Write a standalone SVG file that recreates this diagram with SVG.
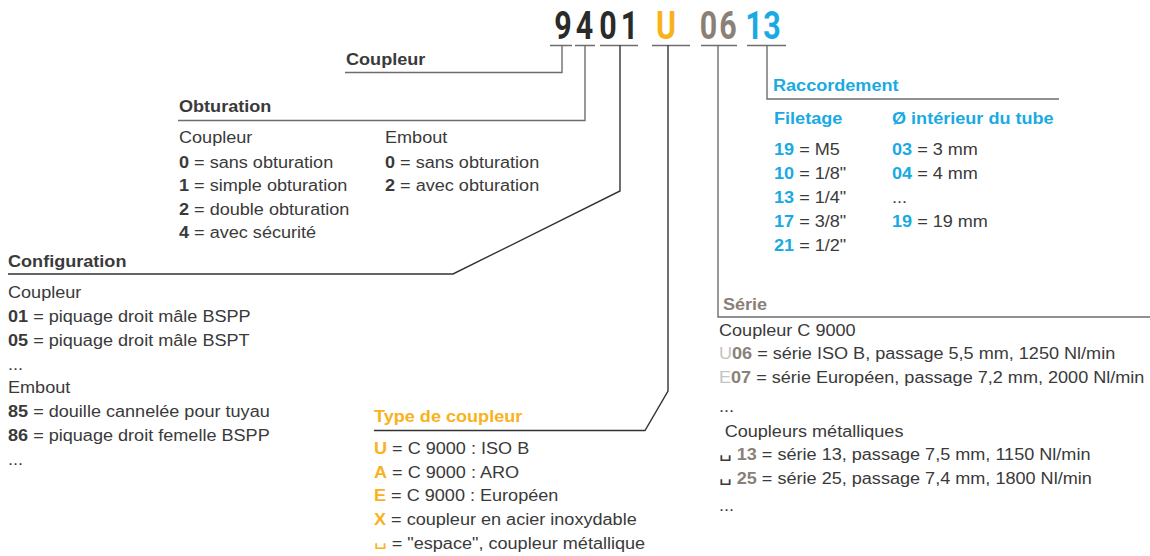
<svg xmlns="http://www.w3.org/2000/svg" width="1150" height="556" viewBox="0 0 1150 556">
<style>
.t{font-family:"Liberation Sans",Arial,Helvetica,sans-serif;font-size:16px;fill:#3a3a3a}
.b{font-weight:bold}
.or{fill:#F9B21B}
.cy{fill:#1AAAE3}
.tp{fill:#8A8077}
.lg{fill:#c4c4c4}
.sym{font-family:"DejaVu Sans",sans-serif;font-size:18px;font-weight:200}
.code{font-family:Roboto,"DejaVu Sans",sans-serif;font-weight:bold;font-size:38px;text-anchor:middle}
.k{fill:#2a2a2a}
.ln{fill:none;stroke:#6e6e6e;stroke-width:1.4}
.dk{stroke:#333}
</style>
<rect width="1150" height="556" fill="#fff"/>
<g id="code">
<text class="code k" transform="matrix(0.8 0 0 1 563 39)">9</text>
<text class="code k" transform="matrix(0.8 0 0 1 584.5 39)">4</text>
<text class="code k" transform="matrix(0.8 0 0 1 608 39)">0</text>
<text class="code k" transform="matrix(0.8 0 0 1 629.5 39)">1</text>
<text class="code or" transform="matrix(0.8 0 0 1 666 39)">U</text>
<text class="code tp" transform="matrix(0.8 0 0 1 708.5 39)">0</text>
<text class="code tp" transform="matrix(0.8 0 0 1 728 39)">6</text>
<text class="code cy" transform="matrix(0.8 0 0 1 754 39)">1</text>
<text class="code cy" transform="matrix(0.8 0 0 1 772 39)">3</text>
</g>
<g id="connectors">
<path class="ln" d="M550,45.5H572M575,45.5H595M600,45.5H638M652,45.5H690M701,45.5H737M747,45.5H786"/>
<path class="ln" d="M562,45.5V72.5H345"/>
<path class="ln" d="M585,45.5V120.5H178"/>
<path class="ln dk" d="M620,45.5V191L453,274H8"/>
<path class="ln dk" d="M668,45.5V391L645,430.5H374"/>
<path class="ln" d="M718,45.5V317H1150"/>
<path class="ln" d="M767,45.5V99H1059"/>
</g>
<g id="coupleur" transform="matrix(1.13 0 0 1 346 0)">
<text class="t b" x="0" y="65">Coupleur</text>
</g>
<g id="obturation">
<g transform="matrix(1.13 0 0 1 179 0)">
<text class="t b" x="0" y="112">Obturation</text>
<text class="t" x="0" y="143.5">Coupleur</text>
<text class="t" x="0" y="168"><tspan class="b">0</tspan> = sans obturation</text>
<text class="t" x="0" y="191.5"><tspan class="b">1</tspan> = simple obturation</text>
<text class="t" x="0" y="215"><tspan class="b">2</tspan> = double obturation</text>
<text class="t" x="0" y="238.5"><tspan class="b">4</tspan> = avec sécurité</text>
</g>
<g transform="matrix(1.13 0 0 1 385 0)">
<text class="t" x="0" y="143.5">Embout</text>
<text class="t" x="0" y="168"><tspan class="b">0</tspan> = sans obturation</text>
<text class="t" x="0" y="191.5"><tspan class="b">2</tspan> = avec obturation</text>
</g>
</g>
<g id="configuration" transform="matrix(1.13 0 0 1 8 0)">
<text class="t b" x="0" y="267">Configuration</text>
<text class="t" x="0" y="298">Coupleur</text>
<text class="t" x="0" y="322"><tspan class="b">01</tspan> = piquage droit mâle BSPP</text>
<text class="t" x="0" y="346"><tspan class="b">05</tspan> = piquage droit mâle BSPT</text>
<text class="t" x="0" y="370">...</text>
<text class="t" x="0" y="393">Embout</text>
<text class="t" x="0" y="417"><tspan class="b">85</tspan> = douille cannelée pour tuyau</text>
<text class="t" x="0" y="441"><tspan class="b">86</tspan> = piquage droit femelle BSPP</text>
<text class="t" x="0" y="465">...</text>
</g>
<g id="type" transform="matrix(1.13 0 0 1 374 0)">
<text class="t b or" x="0" y="422">Type de coupleur</text>
<text class="t" x="0" y="454"><tspan class="b or">U</tspan> = C 9000 : ISO B</text>
<text class="t" x="0" y="478"><tspan class="b or">A</tspan> = C 9000 : ARO</text>
<text class="t" x="0" y="501.5"><tspan class="b or">E</tspan> = C 9000 : Européen</text>
<text class="t" x="0" y="525"><tspan class="b or">X</tspan> = coupleur en acier inoxydable</text>
<text class="t" x="0" y="549"><tspan class="sym or" baseline-shift="4">␣</tspan> = "espace", coupleur métallique</text>
</g>
<g id="raccordement">
<g transform="matrix(1.13 0 0 1 773 0)">
<text class="t b cy" x="0" y="91">Raccordement</text>
</g>
<g transform="matrix(1.13 0 0 1 774 0)">
<text class="t b cy" x="0" y="124">Filetage</text>
<text class="t" x="0" y="155"><tspan class="b cy">19</tspan> = M5</text>
<text class="t" x="0" y="179"><tspan class="b cy">10</tspan> = 1/8"</text>
<text class="t" x="0" y="203"><tspan class="b cy">13</tspan> = 1/4"</text>
<text class="t" x="0" y="227"><tspan class="b cy">17</tspan> = 3/8"</text>
<text class="t" x="0" y="251"><tspan class="b cy">21</tspan> = 1/2"</text>
</g>
<g transform="matrix(1.13 0 0 1 892 0)">
<text class="t b cy" x="0" y="124">Ø intérieur du tube</text>
<text class="t" x="0" y="155"><tspan class="b cy">03</tspan> = 3 mm</text>
<text class="t" x="0" y="179"><tspan class="b cy">04</tspan> = 4 mm</text>
<text class="t" x="0" y="203">...</text>
<text class="t" x="0" y="227"><tspan class="b cy">19</tspan> = 19 mm</text>
</g>
</g>
<g id="serie" transform="matrix(1.13 0 0 1 719 0)">
<text class="t b tp" x="3.5" y="310">Série</text>
<text class="t" x="0" y="336">Coupleur C 9000</text>
<text class="t" x="0" y="359"><tspan class="lg">U</tspan><tspan class="b tp">06</tspan> = série ISO B, passage 5,5 mm, 1250 Nl/min</text>
<text class="t" x="0" y="383"><tspan class="lg">E</tspan><tspan class="b tp">07</tspan> = série Européen, passage 7,2 mm, 2000 Nl/min</text>
<text class="t" x="0" y="412">...</text>
<text class="t" x="5" y="437">Coupleurs métalliques</text>
<text class="t" x="0" y="460.5"><tspan class="sym" baseline-shift="4">␣</tspan> <tspan class="b tp">13</tspan> = série 13, passage 7,5 mm, 1150 Nl/min</text>
<text class="t" x="0" y="484.5"><tspan class="sym" baseline-shift="4">␣</tspan> <tspan class="b tp">25</tspan> = série 25, passage 7,4 mm, 1800 Nl/min</text>
<text class="t" x="0" y="511">...</text>
</g>
</svg>
